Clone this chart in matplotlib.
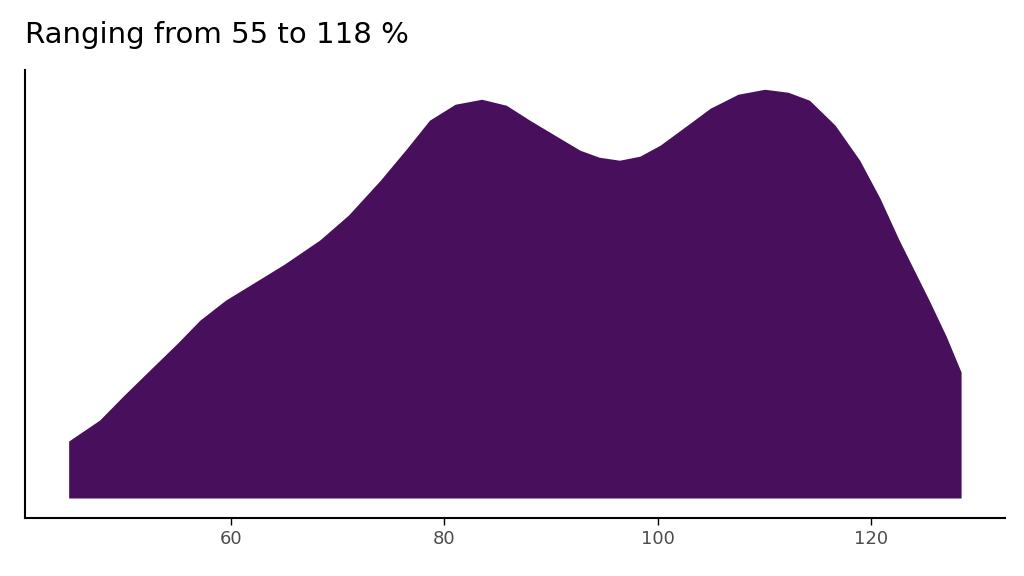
import matplotlib
matplotlib.use("Agg")
import matplotlib.pyplot as plt

# density curve (x value, relative height)
xs = [44.8, 47.7, 50.0, 52.4, 55.0, 57.1, 59.5, 61.8, 65.0, 68.3, 71.0, 74.0,
      76.5, 78.6, 81.0, 83.5, 85.8, 88.0, 90.5, 92.7, 94.5, 96.4, 98.3, 100.2,
      102.5, 104.9, 107.5, 110.0, 112.2, 114.2, 116.6, 118.9, 120.8, 122.6,
      124.0, 125.4, 127.0, 128.4]
dens = [57, 78, 103, 128, 155, 178, 198, 213, 234, 258, 283, 318,
        350, 378, 394, 399, 393, 378, 362, 348, 341, 338, 342, 353,
        371, 390, 404, 409, 406, 398, 373, 338, 300, 258,
        228, 198, 162, 126]
title = "Ranging from 55 to 118 %"
xticks = [60, 80, 100, 120]

fig = plt.figure(figsize=(10.24, 5.76), dpi=100)
ax = fig.add_axes([0.0244, 0.1007, 0.9566, 0.7773])
ax.fill_between(xs, 0, dens, color="#48105c", linewidth=0)
ax.set_xlim(40.71, 132.47)
ax.set_ylim(-20, 428)
ax.set_xticks(xticks)
ax.set_yticks([])
ax.tick_params(axis="x", colors="#4d4d4d", labelsize=13, length=5, width=1)
ax.tick_params(axis="x", color="black")
for s in ("top", "right"):
    ax.spines[s].set_visible(False)
for s in ("left", "bottom"):
    ax.spines[s].set_linewidth(1.5)
fig.text(0.024, 0.915, title, fontsize=21, ha="left", va="bottom")
fig.savefig("out.png", dpi=100)
